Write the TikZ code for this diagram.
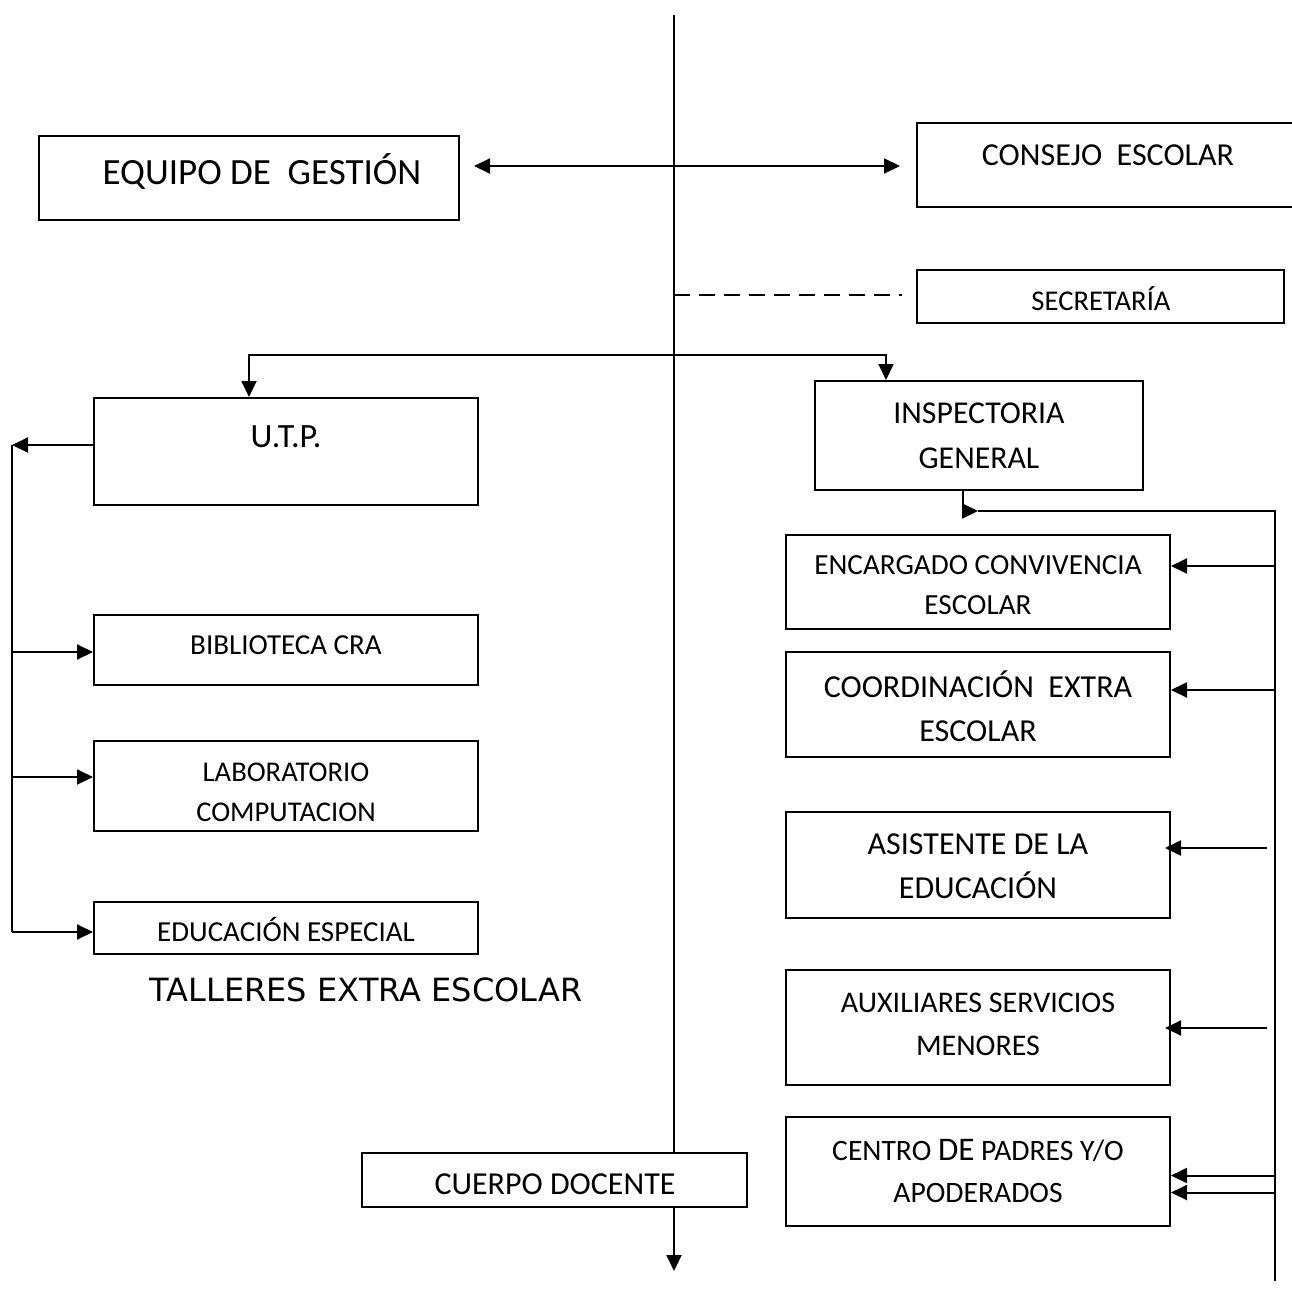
\documentclass[tikz,border=0pt]{standalone}
\usepackage{fontspec}
\setmainfont{Carlito}
\newfontfamily\verdfont{DejaVu Sans}
\usetikzlibrary{arrows.meta,fit}
\begin{document}
\begin{tikzpicture}[x=0.5pt,y=-0.5pt,line width=1pt,
  box/.style={draw,line width=1pt,inner sep=0pt,fill=white},
  txt/.style={inner sep=0pt,align=center},
  arr/.style={-{Triangle[length=8pt,width=7.5pt]}},
  dbl/.style={{Triangle[length=8pt,width=7.5pt]}-{Triangle[length=8pt,width=7.5pt]}},
  dsh/.style={dash pattern=on 8pt off 4.5pt}]
\useasboundingbox (0,0) rectangle (1291,1311);

% central axis
\coordinate (top) at (674,15);
\coordinate (bot) at (674,1271);
\draw[arr] (top) -- (bot);

% boxes
\node[box,fit={(39,136) (459,220)}] (equipo) {};
\node[box,fit={(917,123) (1310,207)}] (consejo) {};
\node[box,fit={(917,270) (1284,323)}] (secre) {};
\node[box,fit={(94,398) (478,505)}] (utp) {};
\node[box,fit={(815,381) (1143,490)}] (insp) {};
\node[box,fit={(94,615) (478,685)}] (bib) {};
\node[box,fit={(94,741) (478,831)}] (lab) {};
\node[box,fit={(94,902) (478,954)}] (edu) {};
\node[box,fit={(786,535) (1170,629)}] (enc) {};
\node[box,fit={(786,652) (1170,757)}] (coord) {};
\node[box,fit={(786,812) (1170,918)}] (asis) {};
\node[box,fit={(786,970) (1170,1085)}] (aux) {};
\node[box,fit={(786,1117) (1170,1226)}] (cpa) {};
\node[box,fit={(362,1153) (747,1207)}] (cuerpo) {};

% texts
\node[txt,font=\fontsize{18.5}{22}\selectfont] (t-equipo) at (262,172) {EQUIPO DE\ \ GESTIÓN};
\node[txt,font=\fontsize{16}{20}\selectfont] (t-consejo) at (1108,155) {CONSEJO\ \ ESCOLAR};
\node[txt,font=\fontsize{14.3}{18}\selectfont] (t-secre) at (1101,299) {SECRETARÍA};
\node[txt,font=\fontsize{17}{20}\selectfont] (t-utp) at (286,437) {U.T.P.};
\node[txt,font=\fontsize{15.9}{22.5}\selectfont] (t-insp) at (979,436) {INSPECTORIA\\GENERAL};
\node[txt,font=\fontsize{14.5}{20}\selectfont] (t-bib) at (286,645) {BIBLIOTECA CRA};
\node[txt,font=\fontsize{14.3}{20}\selectfont] (t-lab) at (286,792) {LABORATORIO\\COMPUTACION};
\node[txt,font=\fontsize{14.5}{20}\selectfont] (t-edu) at (286,929) {EDUCACIÓN ESPECIAL};
\node[txt,font=\verdfont\fontsize{16}{20}\selectfont] (t-talleres) at (366,990) {TALLERES EXTRA ESCOLAR};
\node[txt,font=\fontsize{14.6}{20}\selectfont] (t-enc) at (978,585) {ENCARGADO CONVIVENCIA\\ESCOLAR};
\node[txt,font=\fontsize{16}{22}\selectfont] (t-coord) at (978,706) {COORDINACIÓN\ \ EXTRA\\ESCOLAR};
\node[txt,font=\fontsize{16}{22}\selectfont] (t-asis) at (978,866) {ASISTENTE DE LA\\EDUCACIÓN};
\node[txt,font=\fontsize{15}{21.5}\selectfont] (t-aux) at (978,1024) {AUXILIARES SERVICIOS\\MENORES};
\node[txt,font=\fontsize{14.8}{21}\selectfont] (t-cpa) at (978,1171) {CENTRO {\fontsize{16.5}{20}\selectfont DE} PADRES Y/O\\APODERADOS};
\node[txt,font=\fontsize{16}{20}\selectfont] (t-cuerpo) at (555,1184) {CUERPO DOCENTE};

% top connectors
\coordinate (eqtip) at (474,166);
\coordinate (cotip) at (900,166);
\draw[dbl] (eqtip) -- (cotip);
\coordinate (ds) at (674,295);
\coordinate (de) at (902,295);
\draw[dsh] (ds) -- (de);

% branch to UTP and Inspectoria
\coordinate (j) at (674,355);
\draw[arr] (j) -| ([xshift=-18.5pt]utp.north);
\draw[arr] (j) -| ([xshift=-46.5pt]insp.north);

% left bus
\coordinate (lv) at (12,445);
\coordinate (lb) at (12,932);
\draw[arr] ([yshift=3.25pt]utp.west) -- (lv);
\draw (lv) -- (lb);
\draw[arr] ([yshift=-1pt]bib.west -| lv) -- ([yshift=-1pt]bib.west);
\draw[arr] ([yshift=4.5pt]lab.west -| lv) -- ([yshift=4.5pt]lab.west);
\draw[arr] (lb) -- (lb -| edu.west);

% right bus
\coordinate (rv) at (1275,511);
\coordinate (rb) at (1275,1281);
\coordinate (rk) at (978,511);
\draw[arr] ([xshift=-8pt]insp.south) |- (rk);
\draw (rk) -- (rv) -- (rb);
\draw[arr] ([yshift=8pt]enc.east -| rv) -- ([yshift=8pt]enc.east);
\draw[arr] ([yshift=7.25pt]coord.east -| rv) -- ([yshift=7.25pt]coord.east);
\coordinate (a1) at (1267,848);
\coordinate (a1t) at (1165,848);
\draw[arr] (a1) -- (a1t);
\coordinate (a2) at (1267,1028);
\coordinate (a2t) at (1165,1028);
\draw[arr] (a2) -- (a2t);
\draw[arr] ([yshift=-2pt]cpa.east -| rv) -- ([yshift=-2pt]cpa.east);
\draw[arr] ([yshift=-10.5pt]cpa.east -| rv) -- ([yshift=-10.5pt]cpa.east);
\end{tikzpicture}
\end{document}
